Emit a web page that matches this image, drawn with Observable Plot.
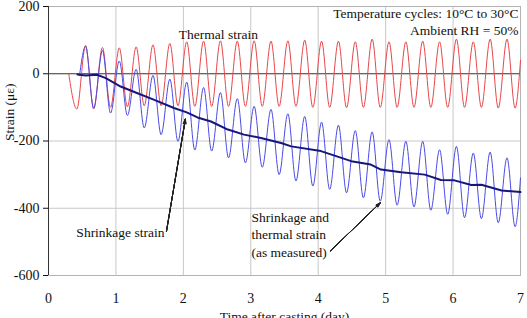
<!DOCTYPE html>
<html><head><meta charset="utf-8">
<script src="https://cdn.jsdelivr.net/npm/d3@7"></script>
<script src="https://cdn.jsdelivr.net/npm/@observablehq/plot@0.6"></script>
<style>html,body{margin:0;padding:0;background:#fff;overflow:hidden;}</style>
</head><body><div id="chart"></div>
<script>
// Thermal strain (red): start, alternating troughs/peaks, end
const thermalT = [0.30, 0.42, 0.55, 0.67, 0.80, 0.92, 1.05, 1.17, 1.30, 1.42, 1.55, 1.67, 1.80, 1.92, 2.05, 2.17, 2.30, 2.42, 2.55, 2.67, 2.80, 2.92, 3.05, 3.17, 3.30, 3.42, 3.55, 3.67, 3.80, 3.92, 4.05, 4.17, 4.30, 4.42, 4.55, 4.67, 4.80, 4.92, 5.05, 5.17, 5.30, 5.42, 5.55, 5.67, 5.80, 5.92, 6.05, 6.17, 6.30, 6.42, 6.55, 6.67, 6.80, 6.92, 7.00];
const thermalV = [0, -105, 84, -105, 78, -100, 77, -98, 80, -95, 86, -95, 90, -95, 95, -97, 97, -97, 98, -97, 97, -97, 98, -97, 97, -97, 98, -97, 100, -100, 97, -100, 97, -101, 95, -100, 103, -100, 95, -100, 95, -100, 97, -100, 95, -100, 103, -100, 95, -100, 103, -102, 103, -102, 40];

// Shrinkage and thermal strain, as measured (blue)
const measuredT = [0.46, 0.55, 0.67, 0.80, 0.92, 1.05, 1.17, 1.30, 1.42, 1.55, 1.67, 1.80, 1.92, 2.05, 2.17, 2.30, 2.42, 2.55, 2.67, 2.80, 2.92, 3.05, 3.17, 3.30, 3.42, 3.55, 3.67, 3.80, 3.92, 4.05, 4.17, 4.30, 4.42, 4.55, 4.67, 4.80, 4.92, 5.05, 5.17, 5.30, 5.42, 5.55, 5.67, 5.80, 5.92, 6.05, 6.17, 6.30, 6.42, 6.55, 6.67, 6.80, 6.92, 7.00];
const measuredV = [-5, 82, -102, 69, -117, 38, -124, 13, -161, -5, -181, -16, -201, -25, -227, -41, -230, -56, -250, -74, -265, -97, -278, -106, -300, -119, -319, -127, -334, -144, -344, -153, -354, -169, -369, -173, -379, -196, -391, -201, -396, -201, -406, -226, -418, -216, -428, -236, -431, -233, -443, -250, -455, -310];

// Shrinkage strain (navy)
const shrinkT = [0.43, 0.55, 0.72, 0.85, 1.07, 1.32, 1.56, 1.86, 2.05, 2.21, 2.41, 2.66, 2.90, 3.15, 3.45, 3.60, 4.04, 4.49, 4.78, 4.93, 5.23, 5.58, 5.82, 6.02, 6.27, 6.42, 6.72, 7.00];
const shrinkV = [-2, -5, -3, -13, -38, -58, -77, -102, -115, -130, -142, -166, -181, -191, -206, -216, -230, -260, -270, -285, -293, -300, -316, -317, -331, -330, -347, -352];

const xTicks = [0, 1, 2, 3, 4, 5, 6, 7];
const yTicks = [-600, -400, -200, 0, 200];

// annotations
const labelTexts = ["Thermal strain", "Shrinkage strain", "Shrinkage and\nthermal strain\n(as measured)"];
const labelT = [2.52, 1.72, 3.01];
const labelV = [116, -473, -476];
const labelAnchor = ["middle", "end", "start"];
const arrowFromT = [1.75, 4.18];
const arrowFromV = [-468, -527];
const arrowToT = [2.03, 4.92];
const arrowToV = [-135, -384];
const noteTexts = ["Temperature cycles: 10°C to 30°C", "Ambient RH = 50%"];
const noteT = [6.97, 6.97];
const noteV = [178, 127];

const zip = (T, V) => T.map((t, i) => ({t, v: V[i]}));
const thermal = zip(thermalT, thermalV);
const measured = zip(measuredT, measuredV);
const shrink = zip(shrinkT, shrinkV);
const labels = labelTexts.map((s, i) => ({s, t: labelT[i], v: labelV[i], a: labelAnchor[i]}));
const arrows = arrowFromT.map((t, i) => ({t1: t, v1: arrowFromV[i], t2: arrowToT[i], v2: arrowToV[i]}));
const notes = noteTexts.map((s, i) => ({s, t: noteT[i], v: noteV[i]}));

const font = "'Liberation Serif', 'Times New Roman', serif";
const fs = 13.5;

// fan of arrow heads to give a filled arrowhead look
const headAngles = [6, 12, 18, 24, 30, 36];
const arrowMarks = headAngles.map(a => Plot.arrow(arrows, {x1: "t1", y1: "v1", x2: "t2", y2: "v2", stroke: "#222", strokeWidth: 1, headLength: 7, headAngle: a}));

const plot = Plot.plot({
  width: 527, height: 318,
  marginLeft: 48, marginRight: 7, marginTop: 6, marginBottom: 43,
  style: {fontFamily: font, fontSize: "14px", color: "#111", background: "#fff"},
  x: {domain: [0, 7], ticks: xTicks, tickSize: 0, tickPadding: 18, label: null, tickFormat: d => String(d)},
  y: {domain: [-600, 200], ticks: yTicks, tickSize: 5, tickPadding: 4, label: null, tickFormat: d => String(d)},
  marks: [
    Plot.gridX(xTicks.slice(1, -1), {stroke: "#c8c8c8", strokeOpacity: 1}),
    Plot.gridY([-400, -200], {stroke: "#c8c8c8", strokeOpacity: 1}),
    Plot.frame({stroke: "#b4b4b4"}),
    Plot.ruleY([0], {stroke: "#333"}),
    Plot.ruleX([0], {stroke: "#333"}),
    Plot.line(thermal, {x: "t", y: "v", stroke: "#e8474a", strokeWidth: 1, curve: "monotone-x"}),
    Plot.line(measured, {x: "t", y: "v", stroke: "#4b4be6", strokeWidth: 1, curve: "monotone-x"}),
    Plot.line(shrink, {x: "t", y: "v", stroke: "#16167c", strokeWidth: 2}),
    ...arrowMarks,
    Plot.text(labels.filter(d => d.a === "middle"), {x: "t", y: "v", text: "s", textAnchor: "middle", fontSize: fs, fill: "#111"}),
    Plot.text(labels.filter(d => d.a === "end"), {x: "t", y: "v", text: "s", textAnchor: "end", fontSize: fs, fill: "#111"}),
    Plot.text(labels.filter(d => d.a === "start"), {x: "t", y: "v", text: "s", textAnchor: "start", fontSize: fs, lineHeight: 1.3, fill: "#111"}),
    Plot.text(notes, {x: "t", y: "v", text: "s", textAnchor: "end", fontSize: fs, fill: "#111"}),
    Plot.text(["Strain (με)"], {frameAnchor: "left", rotate: -90, dx: -39, fontSize: fs, fill: "#111"}),
    Plot.text(["Time after casting (day)"], {frameAnchor: "bottom", dy: 45, fontSize: fs, fill: "#111"})
  ]
});
document.getElementById("chart").appendChild(plot);
</script>
</body></html>
